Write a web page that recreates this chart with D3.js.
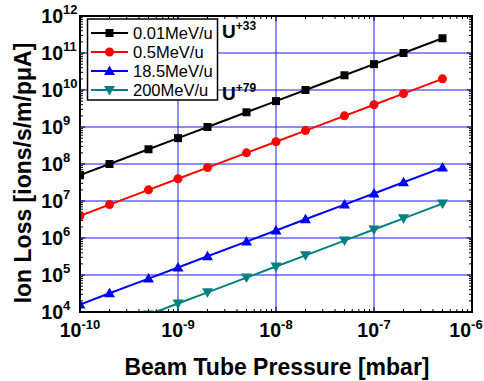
<!DOCTYPE html>
<html>
<head>
<meta charset="utf-8">
<script src="https://cdn.jsdelivr.net/npm/d3@7"></script>
<style>
body { margin: 0; background: #fff; }
svg { font-family: 'Liberation Sans', Arial, sans-serif; }
</style>
</head>
<body>
<svg width="484" height="381"></svg>
<script>
const pressure = [1e-10, 2e-10, 5e-10, 1e-9, 2e-9, 5e-9, 1e-8, 2e-8, 5e-8, 1e-7, 2e-7, 5e-7];
const loss001 = [5e7, 1e8, 2.5e8, 5e8, 1e9, 2.5e9, 5e9, 1e10, 2.5e10, 5e10, 1e11, 2.5e11];
const loss05 = [4e6, 8e6, 2e7, 4e7, 8e7, 2e8, 4e8, 8e8, 2e9, 4e9, 8e9, 2e10];
const loss185 = [1.6e4, 3.2e4, 8e4, 1.6e5, 3.2e5, 8e5, 1.6e6, 3.2e6, 8e6, 1.6e7, 3.2e7, 8e7];
const loss200 = [null, null, 8.5e3, 1.7e4, 3.4e4, 8.5e4, 1.7e5, 3.4e5, 8.5e5, 1.7e6, 3.4e6, 8.5e6];
const seriesNames = ['0.01MeV/u', '0.5MeV/u', '18.5MeV/u', '200MeV/u'];
const xTickExp = [-10, -9, -8, -7, -6];
const yTickExp = [4, 5, 6, 7, 8, 9, 10, 11, 12];

const svg = d3.select('svg');
const pLeft = 80, pRight = 472, pTop = 16, pBottom = 312;

const x = d3.scaleLog().domain([1e-10, 1e-6]).range([pLeft, pRight]);
const y = d3.scaleLog().domain([1e4, 1e12]).range([pBottom, pTop]);

const series = [
	{name: seriesNames[0], values: loss001, color: '#000000', marker: 'square'},
	{name: seriesNames[1], values: loss05, color: '#ff0000', marker: 'circle'},
	{name: seriesNames[2], values: loss185, color: '#0000ff', marker: 'up'},
	{name: seriesNames[3], values: loss200, color: '#008080', marker: 'down'}
];

svg.append('clipPath').attr('id', 'plot-clip')
	.append('rect').attr('x', pLeft).attr('y', pTop).attr('width', pRight - pLeft).attr('height', pBottom - pTop);

// grid lines at decades
let grid = svg.append('g').attr('stroke', '#1a1aff').attr('stroke-width', 1);
xTickExp.slice(1, -1).forEach(e => {
	grid.append('line').attr('x1', x(Math.pow(10, e))).attr('x2', x(Math.pow(10, e)))
		.attr('y1', pTop).attr('y2', pBottom);
});
yTickExp.slice(1, -1).forEach(e => {
	grid.append('line').attr('y1', y(Math.pow(10, e))).attr('y2', y(Math.pow(10, e)))
		.attr('x1', pLeft).attr('x2', pRight);
});

// ticks, inward on all sides
let ticks = svg.append('g').attr('stroke', '#000').attr('stroke-width', 1);
for (let e = -10; e < -6; e++) {
	for (let m = 1; m <= 9; m++) {
		let v = m * Math.pow(10, e);
		if (m === 1 && e === -10) continue;
		let len = m === 1 ? 5 : 3;
		ticks.append('line').attr('x1', x(v)).attr('x2', x(v)).attr('y1', pBottom).attr('y2', pBottom - len);
		ticks.append('line').attr('x1', x(v)).attr('x2', x(v)).attr('y1', pTop).attr('y2', pTop + len);
	}
}
for (let e = 4; e < 12; e++) {
	for (let m = 1; m <= 9; m++) {
		let v = m * Math.pow(10, e);
		if (m === 1 && e === 4) continue;
		let len = m === 1 ? 5 : 3;
		ticks.append('line').attr('y1', y(v)).attr('y2', y(v)).attr('x1', pLeft).attr('x2', pLeft + len);
		ticks.append('line').attr('y1', y(v)).attr('y2', y(v)).attr('x1', pRight).attr('x2', pRight - len);
	}
}

const line = d3.line()
	.defined(d => d[1] != null)
	.x(d => x(d[0]))
	.y(d => y(d[1]));

function drawMarker(g, type, cx, cy, color) {
	if (type === 'square') {
		g.append('rect').attr('x', cx - 4).attr('y', cy - 4).attr('width', 8).attr('height', 8).attr('fill', color);
	} else if (type === 'circle') {
		g.append('circle').attr('cx', cx).attr('cy', cy).attr('r', 4.5).attr('fill', color);
	} else if (type === 'up') {
		g.append('path').attr('d', `M${cx},${cy - 5.5}L${cx + 5.5},${cy + 4}L${cx - 5.5},${cy + 4}Z`).attr('fill', color);
	} else {
		g.append('path').attr('d', `M${cx},${cy + 5.5}L${cx + 5.5},${cy - 4}L${cx - 5.5},${cy - 4}Z`).attr('fill', color);
	}
}

let plot = svg.append('g').attr('clip-path', 'url(#plot-clip)');
series.forEach(s => {
	let pts = pressure.map((p, i) => [p, s.values[i]]);
	plot.append('path').datum(pts).attr('d', line)
		.attr('fill', 'none').attr('stroke', s.color).attr('stroke-width', 2);
	let mg = plot.append('g');
	pts.filter(d => d[1] != null).forEach(d => drawMarker(mg, s.marker, x(d[0]), y(d[1]), s.color));
});

// frame
svg.append('rect').attr('x', pLeft).attr('y', pTop).attr('width', pRight - pLeft).attr('height', pBottom - pTop)
	.attr('fill', 'none').attr('stroke', '#000').attr('stroke-width', 2);

// tick labels
xTickExp.forEach(e => {
	let xx = Math.min(x(Math.pow(10, e)), 466);
	let t = svg.append('text').attr('x', xx).attr('y', pBottom + 25)
		.attr('text-anchor', 'middle').attr('font-weight', 'bold').attr('font-size', 19.5);
	t.append('tspan').text('10');
	t.append('tspan').attr('dy', -8).attr('font-size', 13).text(e);
});
yTickExp.forEach(e => {
	let yy = y(Math.pow(10, e));
	svg.append('text').attr('x', 63).attr('y', yy + 7)
		.attr('text-anchor', 'end').attr('font-weight', 'bold').attr('font-size', 19.5).text('10');
	svg.append('text').attr('x', 63).attr('y', yy - 2)
		.attr('font-weight', 'bold').attr('font-size', 13).text(e);
});

// axis titles
svg.append('text').attr('x', 277).attr('y', 375).attr('text-anchor', 'middle')
	.attr('font-weight', 'bold').attr('font-size', 23).text('Beam Tube Pressure [mbar]');
svg.append('text').attr('transform', 'translate(31,173) rotate(-90)').attr('text-anchor', 'middle')
	.attr('font-weight', 'bold').attr('font-size', 23).text('Ion Loss [ions/s/m/pμA]');

// legend
let legend = svg.append('g');
legend.append('rect').attr('x', 87.5).attr('y', 19).attr('width', 130).attr('height', 81)
	.attr('fill', '#fff').attr('stroke', '#000').attr('stroke-width', 1.5);
series.forEach((s, i) => {
	let ly = 33 + i * 19;
	legend.append('line').attr('x1', 91).attr('x2', 128).attr('y1', ly).attr('y2', ly)
		.attr('stroke', s.color).attr('stroke-width', 2);
	drawMarker(legend, s.marker, 109.5, ly, s.color);
	legend.append('text').attr('x', 133).attr('y', ly + 6).attr('font-size', 16.5).text(s.name);
});

// ion charge states
[['+33', 38], ['+79', 100]].forEach(([q, by]) => {
	let t = svg.append('text').attr('x', 222).attr('y', by).attr('font-weight', 'bold').attr('font-size', 19);
	t.append('tspan').text('U');
	t.append('tspan').attr('dy', -8).attr('font-size', 12).text(q);
});
</script>
</body>
</html>
